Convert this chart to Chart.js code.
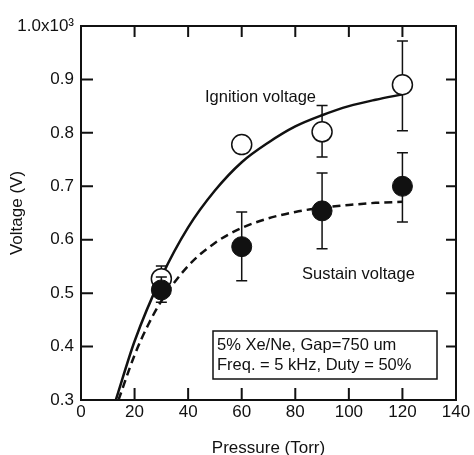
<!DOCTYPE html>
<html>
<head>
<meta charset="utf-8">
<script src="https://cdn.jsdelivr.net/npm/chart.js@4.4.1/dist/chart.umd.min.js"></script>
<style>
  body { margin: 0; background: #fff; }
  #wrap { width: 474px; height: 455px; }
</style>
</head>
<body>
<div id="wrap"><canvas id="voltChart" width="474" height="455"></canvas></div>
<script>
// measured points
var pressure = [30, 60, 90, 120];
var ignition = [0.527, 0.778, 0.802, 0.89];
var ignitionLow = [0.505, null, 0.755, 0.804];
var ignitionHigh = [0.551, null, 0.851, 0.972];
var sustain = [0.506, 0.587, 0.654, 0.70];
var sustainLow = [0.483, 0.523, 0.583, 0.633];
var sustainHigh = [0.53, 0.652, 0.725, 0.763];

// fitted curves
var ignFitX = [13, 20, 30, 40, 50, 60, 70, 80, 90, 100, 110, 120];
var ignFitY = [0.30, 0.41, 0.53, 0.623, 0.692, 0.745, 0.782, 0.812, 0.833, 0.85, 0.862, 0.872];
var susFitX = [14, 20, 25, 30, 40, 50, 60, 70, 80, 90, 100, 110, 120];
var susFitY = [0.30, 0.384, 0.44, 0.485, 0.551, 0.594, 0.622, 0.64, 0.652, 0.66, 0.665, 0.669, 0.671];

var xTicks = [0, 20, 40, 60, 80, 100, 120, 140];
var yTicks = [0.3, 0.4, 0.5, 0.6, 0.7, 0.8, 0.9, 1.0];

var FONT = "'Liberation Sans', Arial, sans-serif";
var INK = "#111";

function toXY(xs, ys) {
  return xs.map(function (x, i) {
    return { x: x, y: ys[i] };
  });
}

var errorBars = {
  id: "errorBars",
  beforeDatasetDraw: function (chart, args) {
    var ds = chart.data.datasets[args.index];
    if (!ds.errLow) return;
    var ctx = chart.ctx;
    var xs = chart.scales.x, ys = chart.scales.y;
    ctx.save();
    ctx.strokeStyle = INK;
    ctx.lineWidth = 1.5;
    ds.data.forEach(function (p, i) {
      if (ds.errLow[i] == null) return;
      var px = xs.getPixelForValue(p.x);
      var lo = ys.getPixelForValue(ds.errLow[i]);
      var hi = ys.getPixelForValue(ds.errHigh[i]);
      ctx.beginPath();
      ctx.moveTo(px, lo); ctx.lineTo(px, hi);
      ctx.moveTo(px - 5.5, lo); ctx.lineTo(px + 5.5, lo);
      ctx.moveTo(px - 5.5, hi); ctx.lineTo(px + 5.5, hi);
      ctx.stroke();
    });
    ctx.restore();
  }
};

var frame = {
  id: "frame",
  afterDraw: function (chart) {
    var ctx = chart.ctx;
    var a = chart.chartArea;
    var xs = chart.scales.x, ys = chart.scales.y;
    ctx.save();
    ctx.strokeStyle = INK;
    ctx.lineWidth = 2;
    ctx.strokeRect(a.left, a.top, a.right - a.left, a.bottom - a.top);
    ctx.beginPath();
    xTicks.slice(1, -1).forEach(function (v) {
      var px = xs.getPixelForValue(v);
      ctx.moveTo(px, a.bottom); ctx.lineTo(px, a.bottom - 12);
      ctx.moveTo(px, a.top); ctx.lineTo(px, a.top + 11);
    });
    yTicks.slice(1, -1).forEach(function (v) {
      var py = ys.getPixelForValue(v);
      ctx.moveTo(a.left, py); ctx.lineTo(a.left + 12, py);
      ctx.moveTo(a.right, py); ctx.lineTo(a.right - 10, py);
    });
    ctx.stroke();

    // labels and legend box
    ctx.fillStyle = INK;
    ctx.font = "16.5px " + FONT;
    ctx.textBaseline = "middle";
    ctx.textAlign = "left";
    ctx.fillText("Ignition voltage", a.left + 124, a.top + 71);
    ctx.fillText("Sustain voltage", a.left + 221, a.top + 248);

    ctx.lineWidth = 1.5;
    ctx.strokeRect(a.left + 132, a.top + 305, 224, 48);
    ctx.fillText("5% Xe/Ne, Gap=750 um", a.left + 136, a.top + 319);
    ctx.fillText("Freq. = 5 kHz, Duty = 50%", a.left + 136, a.top + 339);
    ctx.restore();
  }
};

var ctxVolt = document.getElementById("voltChart").getContext("2d");
var voltChart = new Chart(ctxVolt, {
  type: "scatter",
  data: {
    datasets: [
      {
        label: "Sustain voltage",
        data: toXY(pressure, sustain),
        errLow: sustainLow,
        errHigh: sustainHigh,
        pointRadius: 10,
        pointBackgroundColor: INK,
        pointBorderColor: INK,
        pointBorderWidth: 1,
        showLine: false
      },
      {
        label: "Ignition voltage",
        data: toXY(pressure, ignition),
        errLow: ignitionLow,
        errHigh: ignitionHigh,
        pointRadius: 10,
        pointBackgroundColor: "#fff",
        pointBorderColor: INK,
        pointBorderWidth: 1.5,
        showLine: false
      },
      {
        label: "Ignition fit",
        data: toXY(ignFitX, ignFitY),
        showLine: true,
        pointRadius: 0,
        borderColor: INK,
        borderWidth: 2.5,
        cubicInterpolationMode: "monotone"
      },
      {
        label: "Sustain fit",
        data: toXY(susFitX, susFitY),
        showLine: true,
        pointRadius: 0,
        borderColor: INK,
        borderWidth: 2.5,
        borderDash: [8, 5],
        cubicInterpolationMode: "monotone"
      }
    ]
  },
  options: {
    responsive: false,
    animation: false,
    layout: { padding: { top: 26, right: 18, left: 0, bottom: 0 } },
    plugins: {
      legend: { display: false },
      tooltip: { enabled: false }
    },
    scales: {
      x: {
        min: 0,
        max: 140,
        grid: { display: false, tickLength: 0 },
        border: { display: false },
        afterFit: function (scale) { scale.height = 55; },
        ticks: {
          stepSize: 20,
          padding: 2,
          maxRotation: 0,
          color: INK,
          font: { size: 17, family: FONT }
        },
        title: {
          display: true,
          text: "Pressure (Torr)",
          color: INK,
          padding: { top: 0, bottom: -4 },
          font: { size: 17, family: FONT }
        }
      },
      y: {
        min: 0.3,
        max: 1.0,
        grid: { display: false, tickLength: 0 },
        border: { display: false },
        afterFit: function (scale) { scale.width = 81; },
        ticks: {
          stepSize: 0.1,
          padding: 7,
          color: INK,
          font: { size: 17, family: FONT },
          callback: function (v) {
            var r = Math.round(v * 10) / 10;
            return r === 1 ? "1.0x10\u00b3" : r.toFixed(1);
          }
        },
        title: {
          display: true,
          text: "Voltage (V)",
          color: INK,
          padding: { top: 7, bottom: 0 },
          font: { size: 17, family: FONT }
        }
      }
    }
  },
  plugins: [errorBars, frame]
});
</script>
</body>
</html>
